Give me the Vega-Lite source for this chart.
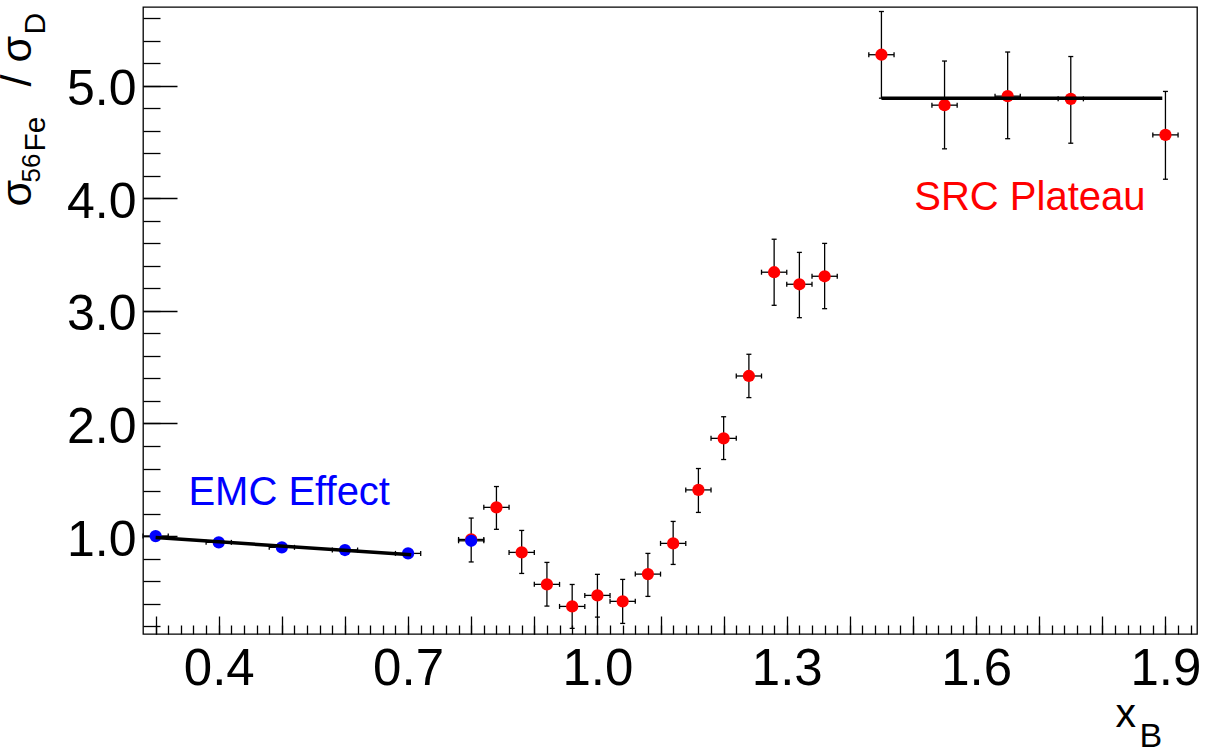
{
  "$schema": "https://vega.github.io/schema/vega-lite/v6.json",
  "width": 1054,
  "height": 627,
  "autosize": {"type": "none"},
  "padding": {"left": 143, "top": 7, "right": 9, "bottom": 117},
  "background": "white",
  "config": {
    "view": {"stroke": "#000", "strokeWidth": 1.3},
    "axis": {"grid": false, "domain": false, "tickColor": "#000", "tickWidth": 1.3, "labelColor": "#000", "titleColor": "#000", "labelFont": "Liberation Sans", "titleFont": "Liberation Sans", "titleFontWeight": "normal"}
  },
  "datasets": {
    "pts": [
      {"x": 0.80, "y": 0.970, "xlo": 0.78, "xhi": 0.82, "ylo": 0.770, "yhi": 1.160, "s": "SRC"},
      {"x": 0.84, "y": 1.255, "xlo": 0.82, "xhi": 0.86, "ylo": 1.060, "yhi": 1.440, "s": "SRC"},
      {"x": 0.88, "y": 0.855, "xlo": 0.86, "xhi": 0.90, "ylo": 0.668, "yhi": 1.050, "s": "SRC"},
      {"x": 0.92, "y": 0.571, "xlo": 0.90, "xhi": 0.94, "ylo": 0.378, "yhi": 0.766, "s": "SRC"},
      {"x": 0.96, "y": 0.375, "xlo": 0.94, "xhi": 0.98, "ylo": 0.180, "yhi": 0.570, "s": "SRC"},
      {"x": 1.00, "y": 0.473, "xlo": 0.98, "xhi": 1.02, "ylo": 0.280, "yhi": 0.660, "s": "SRC"},
      {"x": 1.04, "y": 0.420, "xlo": 1.02, "xhi": 1.06, "ylo": 0.224, "yhi": 0.615, "s": "SRC"},
      {"x": 1.08, "y": 0.662, "xlo": 1.06, "xhi": 1.10, "ylo": 0.464, "yhi": 0.846, "s": "SRC"},
      {"x": 1.12, "y": 0.935, "xlo": 1.10, "xhi": 1.14, "ylo": 0.748, "yhi": 1.130, "s": "SRC"},
      {"x": 1.16, "y": 1.410, "xlo": 1.14, "xhi": 1.18, "ylo": 1.210, "yhi": 1.600, "s": "SRC"},
      {"x": 1.20, "y": 1.868, "xlo": 1.18, "xhi": 1.22, "ylo": 1.680, "yhi": 2.060, "s": "SRC"},
      {"x": 1.24, "y": 2.422, "xlo": 1.22, "xhi": 1.26, "ylo": 2.230, "yhi": 2.615, "s": "SRC"},
      {"x": 1.28, "y": 3.344, "xlo": 1.26, "xhi": 1.30, "ylo": 3.050, "yhi": 3.637, "s": "SRC"},
      {"x": 1.32, "y": 3.237, "xlo": 1.30, "xhi": 1.34, "ylo": 2.940, "yhi": 3.520, "s": "SRC"},
      {"x": 1.36, "y": 3.308, "xlo": 1.34, "xhi": 1.38, "ylo": 3.020, "yhi": 3.600, "s": "SRC"},
      {"x": 1.45, "y": 5.276, "xlo": 1.43, "xhi": 1.47, "ylo": 4.890, "yhi": 5.660, "s": "SRC"},
      {"x": 1.55, "y": 4.828, "xlo": 1.53, "xhi": 1.57, "ylo": 4.440, "yhi": 5.220, "s": "SRC"},
      {"x": 1.65, "y": 4.908, "xlo": 1.63, "xhi": 1.67, "ylo": 4.530, "yhi": 5.300, "s": "SRC"},
      {"x": 1.75, "y": 4.884, "xlo": 1.73, "xhi": 1.77, "ylo": 4.490, "yhi": 5.260, "s": "SRC"},
      {"x": 1.90, "y": 4.564, "xlo": 1.88, "xhi": 1.92, "ylo": 4.170, "yhi": 4.950, "s": "SRC"},
      {"x": 0.30, "y": 1.000, "xlo": 0.28, "xhi": 0.32, "ylo": 0.990, "yhi": 1.010, "s": "EMC"},
      {"x": 0.40, "y": 0.944, "xlo": 0.38, "xhi": 0.42, "ylo": 0.934, "yhi": 0.954, "s": "EMC"},
      {"x": 0.50, "y": 0.900, "xlo": 0.48, "xhi": 0.52, "ylo": 0.890, "yhi": 0.910, "s": "EMC"},
      {"x": 0.60, "y": 0.876, "xlo": 0.58, "xhi": 0.62, "ylo": 0.866, "yhi": 0.886, "s": "EMC"},
      {"x": 0.70, "y": 0.846, "xlo": 0.68, "xhi": 0.72, "ylo": 0.836, "yhi": 0.856, "s": "EMC"},
      {"x": 0.80, "y": 0.958, "xlo": 0.78, "xhi": 0.82, "ylo": 0.948, "yhi": 0.968, "s": "EMC"}
    ],
    "fit": [
      {"x": 0.30, "y": 0.987, "g": "EMC"},
      {"x": 0.705, "y": 0.834, "g": "EMC"},
      {"x": 1.45, "y": 4.890, "g": "SRC"},
      {"x": 1.895, "y": 4.890, "g": "SRC"}
    ],
    "lab": [
      {"x": 0.352, "y": 1.276, "text": "EMC Effect", "s": "EMC"},
      {"x": 1.502, "y": 3.898, "text": "SRC Plateau", "s": "SRC"}
    ]
  },
  "resolve": {"axis": {"x": "independent", "y": "independent"}},
  "layer": [
    {
      "data": {"name": "pts"},
      "mark": {"type": "rule", "color": "#000", "strokeWidth": 1.3},
      "encoding": {
        "x": {"field": "x", "type": "quantitative", "scale": {"domain": [0.28, 1.95], "nice": false, "zero": false},
          "axis": {"orient": "bottom", "values": [0.3,0.4,0.5,0.6,0.7,0.8,0.9,1.0,1.1,1.2,1.3,1.4,1.5,1.6,1.7,1.8,1.9], "tickSize": -18, "labelFontSize": 51, "labelBaseline": "alphabetic", "labelPadding": 68.7, "labelOverlap": false, "labelFlush": false,
            "labelExpr": "indexof(['0.4','0.7','1.0','1.3','1.6','1.9'], format(datum.value, '.1f')) >= 0 ? format(datum.value, '.1f') : ''",
            "title": "x", "titleFontSize": 41, "titleX": 972, "titleY": 92, "titleAlign": "left", "titleBaseline": "alphabetic", "titleAngle": 0}},
        "y": {"field": "ylo", "type": "quantitative", "scale": {"domain": [0.13, 5.7], "nice": false, "zero": false},
          "axis": {"orient": "left", "values": [1, 2, 3, 4, 5], "format": ".1f", "tickSize": -34, "labelFontSize": 50, "labelBaseline": "alphabetic", "labelOffset": 19, "labelPadding": 41, "labelOverlap": false, "labelFlush": false,
            "title": "σ", "titleFontSize": 43, "titleX": -113, "titleY": 199, "titleAngle": -90, "titleAlign": "left", "titleBaseline": "alphabetic"}},
        "y2": {"field": "yhi"}
      }
    },
    {
      "data": {"name": "pts"},
      "mark": {"type": "rule", "color": "#000", "strokeWidth": 1.3},
      "encoding": {
        "x": {"field": "xlo", "type": "quantitative", "scale": {"domain": [0.28, 1.95], "nice": false, "zero": false},
          "axis": {"orient": "bottom", "values": [0.3,0.32,0.34,0.36,0.38,0.4,0.42,0.44,0.46,0.48,0.5,0.52,0.54,0.56,0.58,0.6,0.62,0.64,0.66,0.68,0.7,0.72,0.74,0.76,0.78,0.8,0.82,0.84,0.86,0.88,0.9,0.92,0.94,0.96,0.98,1.0,1.02,1.04,1.06,1.08,1.1,1.12,1.14,1.16,1.18,1.2,1.22,1.24,1.26,1.28,1.3,1.32,1.34,1.36,1.38,1.4,1.42,1.44,1.46,1.48,1.5,1.52,1.54,1.56,1.58,1.6,1.62,1.64,1.66,1.68,1.7,1.72,1.74,1.76,1.78,1.8,1.82,1.84,1.86,1.88,1.9,1.92,1.94], "tickSize": -9, "labels": false,
            "title": "B", "titleFontSize": 34, "titleX": 996, "titleY": 112, "titleAlign": "left", "titleBaseline": "alphabetic", "titleAngle": 0}},
        "x2": {"field": "xhi"},
        "y": {"field": "y", "type": "quantitative", "scale": {"domain": [0.13, 5.7], "nice": false, "zero": false},
          "axis": {"orient": "left", "values": [0.2,0.4,0.6,0.8,1.0,1.2,1.4,1.6,1.8,2.0,2.2,2.4,2.6,2.8,3.0,3.2,3.4,3.6,3.8,4.0,4.2,4.4,4.6,4.8,5.0,5.2,5.4,5.6], "tickSize": -17, "labels": false,
            "title": "56", "titleFontSize": 26, "titleX": -104, "titleY": 175, "titleAngle": -90, "titleAlign": "left", "titleBaseline": "alphabetic"}}
      }
    },
    {
      "data": {"name": "pts"},
      "mark": {"type": "tick", "orient": "horizontal", "color": "#000", "size": 5, "thickness": 1.3, "opacity": 1},
      "encoding": {
        "x": {"field": "x", "type": "quantitative", "scale": {"domain": [0.28, 1.95], "nice": false, "zero": false}, "axis": null},
        "y": {"field": "ylo", "type": "quantitative", "scale": {"domain": [0.13, 5.7], "nice": false, "zero": false},
          "axis": {"orient": "left", "ticks": false, "labels": false,
            "title": "Fe", "titleFontSize": 30, "titleX": -99, "titleY": 144, "titleAngle": -90, "titleAlign": "left", "titleBaseline": "alphabetic"}}
      }
    },
    {
      "data": {"name": "pts"},
      "mark": {"type": "tick", "orient": "horizontal", "color": "#000", "size": 5, "thickness": 1.3, "opacity": 1},
      "encoding": {
        "x": {"field": "x", "type": "quantitative", "scale": {"domain": [0.28, 1.95], "nice": false, "zero": false}, "axis": null},
        "y": {"field": "yhi", "type": "quantitative", "scale": {"domain": [0.13, 5.7], "nice": false, "zero": false},
          "axis": {"orient": "left", "ticks": false, "labels": false,
            "title": "/ σ", "titleFontSize": 43, "titleX": -113, "titleY": 79, "titleAngle": -90, "titleAlign": "left", "titleBaseline": "alphabetic"}}
      }
    },
    {
      "data": {"name": "pts"},
      "mark": {"type": "tick", "orient": "vertical", "color": "#000", "size": 5, "thickness": 1.3, "opacity": 1},
      "encoding": {
        "x": {"field": "xlo", "type": "quantitative", "scale": {"domain": [0.28, 1.95], "nice": false, "zero": false}, "axis": null},
        "y": {"field": "y", "type": "quantitative", "scale": {"domain": [0.13, 5.7], "nice": false, "zero": false},
          "axis": {"orient": "left", "ticks": false, "labels": false,
            "title": "D", "titleFontSize": 30, "titleX": -99, "titleY": 27, "titleAngle": -90, "titleAlign": "left", "titleBaseline": "alphabetic"}}
      }
    },
    {
      "data": {"name": "pts"},
      "mark": {"type": "tick", "orient": "vertical", "color": "#000", "size": 5, "thickness": 1.3, "opacity": 1},
      "encoding": {
        "x": {"field": "xhi", "type": "quantitative", "scale": {"domain": [0.28, 1.95], "nice": false, "zero": false}, "axis": null},
        "y": {"field": "y", "type": "quantitative", "scale": {"domain": [0.13, 5.7], "nice": false, "zero": false}, "axis": null}
      }
    },
    {
      "data": {"name": "pts"},
      "mark": {"type": "point", "filled": true, "shape": "circle", "size": 150, "opacity": 1, "strokeWidth": 0},
      "encoding": {
        "x": {"field": "x", "type": "quantitative", "scale": {"domain": [0.28, 1.95], "nice": false, "zero": false}, "axis": null},
        "y": {"field": "y", "type": "quantitative", "scale": {"domain": [0.13, 5.7], "nice": false, "zero": false}, "axis": null},
        "color": {"field": "s", "type": "nominal", "scale": {"domain": ["EMC", "SRC"], "range": ["#0000ff", "#ff0000"]}, "legend": null}
      }
    },
    {
      "data": {"name": "fit"},
      "mark": {"type": "line", "color": "#000", "strokeWidth": 3.5},
      "encoding": {
        "x": {"field": "x", "type": "quantitative", "scale": {"domain": [0.28, 1.95], "nice": false, "zero": false}, "axis": null},
        "y": {"field": "y", "type": "quantitative", "scale": {"domain": [0.13, 5.7], "nice": false, "zero": false}, "axis": null},
        "detail": {"field": "g", "type": "nominal"}
      }
    },
    {
      "data": {"name": "lab"},
      "mark": {"type": "text", "align": "left", "baseline": "alphabetic", "font": "Liberation Sans", "fontSize": 40},
      "encoding": {
        "x": {"field": "x", "type": "quantitative", "scale": {"domain": [0.28, 1.95], "nice": false, "zero": false}, "axis": null},
        "y": {"field": "y", "type": "quantitative", "scale": {"domain": [0.13, 5.7], "nice": false, "zero": false}, "axis": null},
        "text": {"field": "text", "type": "nominal"},
        "color": {"field": "s", "type": "nominal", "scale": {"domain": ["EMC", "SRC"], "range": ["#0000ff", "#ff0000"]}, "legend": null}
      }
    }
  ]
}
